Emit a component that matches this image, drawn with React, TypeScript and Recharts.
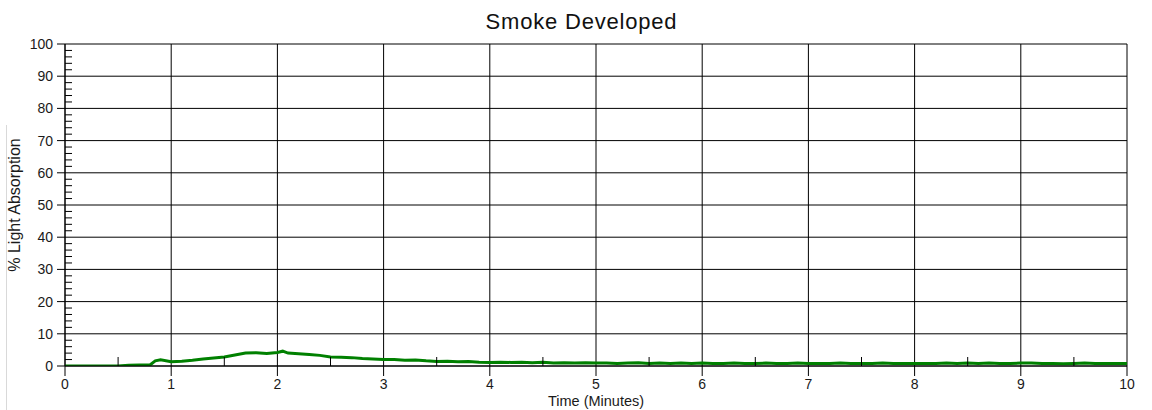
import { LineChart, Line, XAxis, YAxis, CartesianGrid } from "recharts";

// time in minutes, light absorption in %
const minutes = [
  0, 0.1, 0.2, 0.3, 0.4, 0.5, 0.6, 0.7, 0.8, 0.85, 0.9, 1.0,
  1.1, 1.2, 1.3, 1.4, 1.5, 1.6, 1.7, 1.8, 1.9, 2.0,
  2.05, 2.1, 2.2, 2.3, 2.4, 2.5, 2.6, 2.7, 2.8, 2.9, 3.0,
  3.1, 3.2, 3.3, 3.4, 3.5, 3.6, 3.7, 3.8, 3.9, 4.0,
  4.1, 4.2, 4.3, 4.4, 4.5, 4.6, 4.7, 4.8, 4.9, 5.0,
  5.1, 5.2, 5.3, 5.4, 5.5, 5.6, 5.7, 5.8, 5.9, 6.0,
  6.1, 6.2, 6.3, 6.4, 6.5, 6.6, 6.7, 6.8, 6.9, 7.0,
  7.1, 7.2, 7.3, 7.4, 7.5, 7.6, 7.7, 7.8, 7.9, 8.0,
  8.1, 8.2, 8.3, 8.4, 8.5, 8.6, 8.7, 8.8, 8.9, 9.0,
  9.1, 9.2, 9.3, 9.4, 9.5, 9.6, 9.7, 9.8, 9.9, 10.0,
];
const absorption = [
  0, 0, 0, 0, 0, 0, 0.2, 0.3, 0.3, 1.6, 1.9, 1.3,
  1.5, 1.8, 2.2, 2.5, 2.8, 3.4, 4.0, 4.1, 3.9, 4.2,
  4.6, 4.0, 3.8, 3.6, 3.3, 2.8, 2.7, 2.6, 2.3, 2.2, 2.0,
  2.0, 1.8, 1.9, 1.6, 1.4, 1.5, 1.3, 1.4, 1.2, 1.1,
  1.2, 1.1, 1.2, 1.0, 1.2, 0.9, 1.0, 0.9, 1.0, 0.9,
  0.9, 0.8, 0.9, 1.0, 0.8, 0.9, 0.8, 0.9, 0.8, 0.9,
  0.8, 0.8, 0.9, 0.8, 0.8, 0.9, 0.8, 0.8, 0.9, 0.8,
  0.8, 0.8, 0.9, 0.8, 0.8, 0.8, 0.9, 0.8, 0.8, 0.8,
  0.8, 0.8, 0.9, 0.8, 0.9, 0.8, 0.9, 0.8, 0.8, 0.9,
  0.9, 0.8, 0.8, 0.7, 0.8, 0.9, 0.8, 0.8, 0.8, 0.8,
];

const xTicks = [0, 1, 2, 3, 4, 5, 6, 7, 8, 9, 10];
const xMinorTicks = [0.5, 1.5, 2.5, 3.5, 4.5, 5.5, 6.5, 7.5, 8.5, 9.5];
const yTicks = [0, 10, 20, 30, 40, 50, 60, 70, 80, 90, 100];
const yMinorTicks = [
  2, 4, 6, 8, 12, 14, 16, 18, 22, 24, 26, 28, 32, 34, 36, 38, 42, 44, 46, 48,
  52, 54, 56, 58, 62, 64, 66, 68, 72, 74, 76, 78, 82, 84, 86, 88, 92, 94, 96, 98,
];

const data = minutes.map((t, i) => ({ t, value: absorption[i] }));

const FONT = "'Liberation Sans', Arial, sans-serif";
const tickStyle = { fontSize: 14, fill: "#1a1a1a", fontFamily: FONT };
const noLabel = () => <g />;

export default function App() {
  return (
    <div
      style={{
        position: "absolute",
        left: 0,
        top: 0,
        width: 1152,
        height: 410,
        background: "#fff",
        fontFamily: FONT,
      }}
    >
      <div
        style={{
          position: "absolute",
          left: 6,
          top: 125,
          width: 1,
          height: 285,
          background: "#d9d9d9",
        }}
      />
      <div
        style={{
          position: "absolute",
          left: 0,
          top: 11,
          width: 1163,
          textAlign: "center",
          fontSize: 22,
          lineHeight: "22px",
          letterSpacing: 0.8,
          color: "#111",
        }}
      >
        Smoke Developed
      </div>
      <LineChart
        width={1152}
        height={410}
        data={data}
        margin={{ top: 44, right: 25, bottom: 0, left: 0 }}
      >
        <CartesianGrid stroke="#000" strokeWidth={1} />
        <XAxis
          dataKey="t"
          type="number"
          domain={[0, 10]}
          ticks={xTicks}
          interval={0}
          allowDataOverflow
          height={44}
          tickSize={10}
          tickMargin={3}
          tick={tickStyle}
          stroke="#000"
          label={{
            value: "Time (Minutes)",
            position: "insideBottom",
            offset: 4,
            style: { fontSize: 14.5, fill: "#1a1a1a", fontFamily: FONT },
          }}
        />
        <XAxis
          xAxisId="minor"
          dataKey="t"
          type="number"
          domain={[0, 10]}
          ticks={xMinorTicks}
          interval={0}
          allowDataOverflow
          mirror
          height={10}
          tickSize={9}
          tickMargin={0}
          tick={noLabel}
          axisLine={false}
          stroke="#000"
        />
        <YAxis
          type="number"
          domain={[0, 100]}
          ticks={yTicks}
          interval={0}
          allowDataOverflow
          width={65}
          tickSize={8}
          tickMargin={4}
          tick={tickStyle}
          stroke="#000"
          label={{
            value: "% Light Absorption",
            angle: -90,
            position: "insideLeft",
            offset: 14,
            style: { textAnchor: "middle", fontSize: 16, fill: "#1a1a1a", fontFamily: FONT },
          }}
        />
        <YAxis
          yAxisId="minor"
          type="number"
          domain={[0, 100]}
          ticks={yMinorTicks}
          interval={0}
          allowDataOverflow
          mirror
          width={10}
          tickSize={7}
          tickMargin={0}
          tick={noLabel}
          axisLine={false}
          stroke="#000"
        />
        <Line
          type="linear"
          dataKey="value"
          stroke="#008000"
          strokeWidth={3}
          dot={false}
          isAnimationActive={false}
        />
      </LineChart>
    </div>
  );
}
